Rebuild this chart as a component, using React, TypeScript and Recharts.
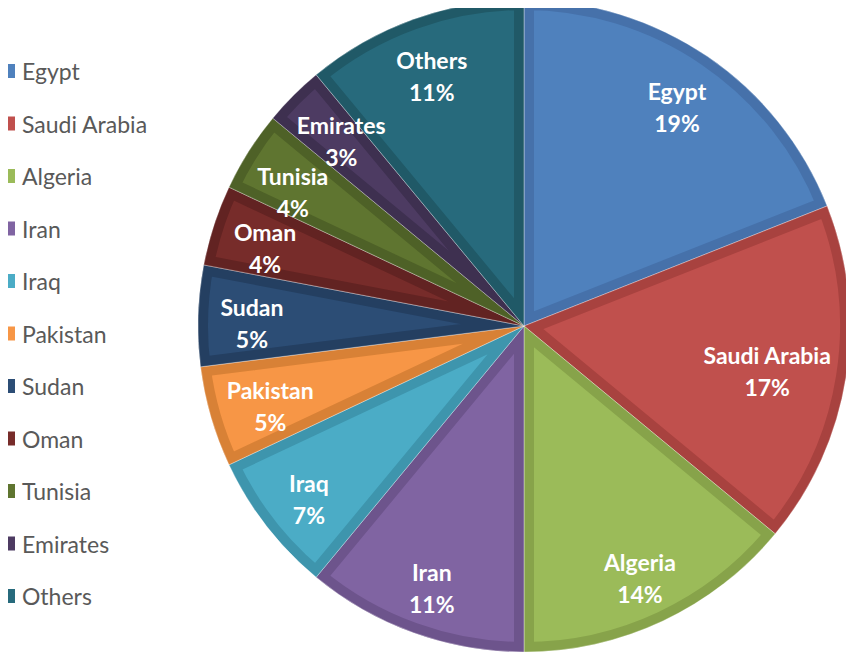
import { Cell, Pie, PieChart, Sector } from "recharts";

const countries = ["Egypt", "Saudi Arabia", "Algeria", "Iran", "Iraq", "Pakistan", "Sudan", "Oman", "Tunisia", "Emirates", "Others"];
const shares = [19, 17, 14, 11, 7, 5, 5, 4, 4, 3, 11];
const fills = ["#4f81bd", "#c0504d", "#9bbb59", "#8064a2", "#4bacc6", "#f79646", "#2c4d75", "#772c2a", "#5f7530", "#4d3b62", "#276a7c"];
const borders = ["#4671aa", "#a8423f", "#87a34a", "#6d548c", "#3e95ad", "#d88136", "#243f61", "#622322", "#4e6127", "#3e3050", "#205967"];

const data = countries.map((name, i) => ({ name, value: shares[i] }));

const W = 854;
const H = 654;
const R = 326;
const CX = 524;
const CY = 326;
const LABEL_FONT = "bold 23px Lato";
const HALF_H = 24;

let ctx: CanvasRenderingContext2D | null = null;
function textWidth(s: string) {
  if (!ctx) ctx = document.createElement("canvas").getContext("2d");
  if (!ctx) return s.length * 11;
  ctx.font = LABEL_FONT;
  return ctx.measureText(s).width;
}
const halfWidth = (i: number) => Math.max(textWidth(countries[i]), textWidth(`${shares[i]}%`)) / 2;

/** Excel-style "best fit": start near the rim and pull inward until the box sits inside the disc. */
function fitPos(angle: number, halfW: number) {
  const rad = (-angle * Math.PI) / 180;
  const limit = R - 12;
  let r = R * 0.835;
  while (r > 0) {
    const x = r * Math.cos(rad);
    const y = r * Math.sin(rad);
    const ok = [
      [x - halfW, y - HALF_H],
      [x + halfW, y - HALF_H],
      [x - halfW, y + HALF_H],
      [x + halfW, y + HALF_H],
    ].every(([a, b]) => Math.hypot(a, b) <= limit);
    if (ok) break;
    r -= 2;
  }
  return { x: r * Math.cos(rad), y: r * Math.sin(rad) };
}

// angular nudges so neighbouring labels don't collide: both labels of a clashing pair step apart
let nudges: number[] | null = null;
function getNudges() {
  if (nudges) return nudges;
  const total = shares.reduce((a, b) => a + b, 0);
  let acc = 0;
  const mids = shares.map((v) => {
    const m = 90 - (360 * (acc + v / 2)) / total;
    acc += v;
    return m;
  });
  const n = shares.map(() => 0);
  const overlap = (i: number, j: number) => {
    const a = fitPos(mids[i] + n[i], halfWidth(i));
    const b = fitPos(mids[j] + n[j], halfWidth(j));
    return Math.abs(a.x - b.x) < halfWidth(i) + halfWidth(j) + 2 && Math.abs(a.y - b.y) < 2 * HALF_H + 2;
  };
  for (let pass = 0; pass < 60; pass++) {
    let clash = false;
    for (let i = 0; i < shares.length - 1; i++) {
      if (overlap(i, i + 1)) {
        n[i] += 0.25;
        n[i + 1] -= 0.25;
        clash = true;
      }
    }
    if (!clash) break;
  }
  nudges = n;
  return n;
}

function renderLabel(props: any) {
  const { cx, cy, midAngle, name, value } = props;
  const i = countries.indexOf(name);
  const p = fitPos(midAngle + getNudges()[i], halfWidth(i));
  const x = cx + p.x;
  const y = cy + p.y;
  return (
    <text x={x} y={y} fill="#fff" textAnchor="middle" style={{ font: LABEL_FONT }}>
      <tspan x={x} y={y - 10} dominantBaseline="central">{name}</tspan>
      <tspan x={x} y={y + 22} dominantBaseline="central">{`${value}%`}</tspan>
    </text>
  );
}

function renderSlice(props: any) {
  const i = countries.indexOf(props.payload?.name ?? props.name);
  const id = `slice-clip-${i}`;
  const geom = {
    cx: props.cx,
    cy: props.cy,
    innerRadius: 0,
    outerRadius: props.outerRadius,
    startAngle: props.startAngle,
    endAngle: props.endAngle,
  };
  return (
    <g>
      <defs>
        <clipPath id={id}>
          <Sector {...geom} />
        </clipPath>
      </defs>
      <Sector {...geom} fill={fills[i]} stroke={borders[i]} strokeWidth={20} clipPath={`url(#${id})`} />
      <Sector {...geom} fill="none" stroke="rgba(255,255,255,0.45)" strokeWidth={0.8} />
    </g>
  );
}

export default function App() {
  return (
    <div style={{ position: "relative", left: -8, top: -8, width: W, height: H, background: "#fff" }}>
      <PieChart width={W} height={H} margin={{ top: 0, right: 0, bottom: 0, left: 0 }}>
        <Pie
          data={data}
          dataKey="value"
          nameKey="name"
          cx={CX}
          cy={CY}
          outerRadius={R}
          startAngle={90}
          endAngle={-270}
          stroke="none"
          shape={renderSlice}
          label={renderLabel}
          labelLine={false}
          isAnimationActive={false}
        >
          {data.map((d, i) => (
            <Cell key={d.name} fill={fills[i]} />
          ))}
        </Pie>
      </PieChart>
      <svg width={180} height={H} style={{ position: "absolute", left: 0, top: 0 }}>
        {countries.map((c, i) => {
          const y = 71 + i * 52.5;
          return (
            <g key={c}>
              <rect x={1} y={y - 7} width={14} height={14} fill={fills[i]} />
              <text x={22} y={y} dominantBaseline="central" fontFamily="Lato" fontSize={23} fill="#595959">
                {c}
              </text>
            </g>
          );
        })}
      </svg>
    </div>
  );
}
